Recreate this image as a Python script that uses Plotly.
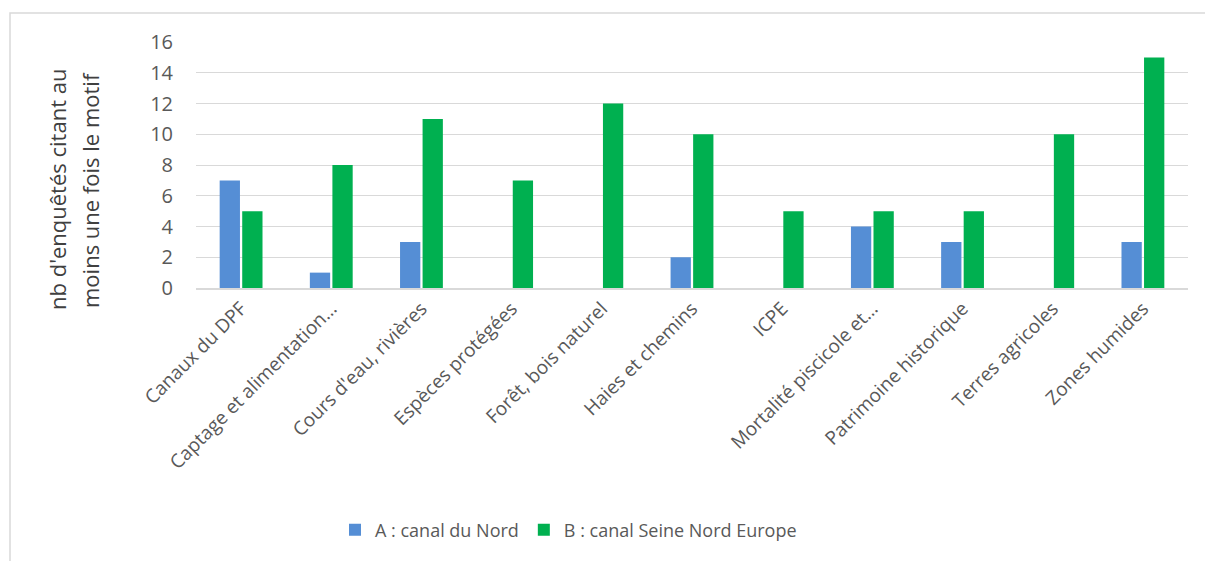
import plotly.graph_objects as go

categories = ["Canaux du DPF", "Captage et alimentation…", "Cours d'eau, rivières",
              "Espèces protégées", "Forêt, bois naturel", "Haies et chemins", "ICPE",
              "Mortalité piscicole et…", "Patrimoine historique", "Terres agricoles",
              "Zones humides"]
series_a = [7, 1, 3, 0, 0, 2, 0, 4, 3, 0, 3]
series_b = [5, 8, 11, 7, 12, 10, 5, 5, 5, 10, 15]
name_a = "A : canal du Nord"
name_b = "B : canal Seine Nord Europe"
y_title_lines = ["nb d'enquêtés citant au", "moins une fois le motif"]

W, H = 1205, 561
L, R, T, B = 196, 1188, 42, 288

fig = go.Figure()
fig.add_trace(go.Bar(x=categories, y=series_a, name=name_a, marker_color="#558ED5",
                     marker_line_width=0))
fig.add_trace(go.Bar(x=categories, y=series_b, name=name_b, marker_color="#00B050",
                     marker_line_width=0))

font = "'Open Sans', sans-serif"
px = lambda v: (v - L) / (R - L)
py = lambda v: (B - v) / (B - T)

fig.update_layout(
    width=W, height=H,
    margin=dict(l=L, r=W - R, t=T, b=H - B, autoexpand=False),
    paper_bgcolor="white", plot_bgcolor="white",
    barmode="group", bargap=0.5, bargroupgap=0.1,
    font=dict(family=font, color="#595959", size=18),
    showlegend=True,
    legend=dict(orientation="h", x=px(335), xanchor="left", y=py(530), yanchor="middle",
                font=dict(size=18, color="#595959"), traceorder="normal",
                itemwidth=30),
)
fig.update_yaxes(range=[0, 16], dtick=2, showgrid=True, gridcolor="#D9D9D9", gridwidth=1,
                 zeroline=False, showline=False, ticks="", ticklabelstandoff=22,
                 tickfont=dict(size=20, color="#595959"))
fig.update_xaxes(showline=True, linecolor="#D9D9D9", linewidth=2, ticks="",
                 tickangle=-45, tickfont=dict(size=19, color="#595959"))

for i, (line, xc) in enumerate(zip(y_title_lines, [57, 90])):
    fig.add_annotation(text=line, xref="paper", yref="paper", x=px(xc), y=py(190),
                       xanchor="center", yanchor="middle", textangle=-90, showarrow=False,
                       font=dict(size=22, color="#404040", family=font))

# chart border
fig.add_shape(type="rect", xref="paper", yref="paper",
              x0=px(10), x1=px(1215), y0=py(575), y1=py(13),
              line=dict(color="#D9D9D9", width=1.5), layer="below")

fig.write_html("out.html", config={"displayModeBar": False},
               post_script="document.body.style.margin='0';")
